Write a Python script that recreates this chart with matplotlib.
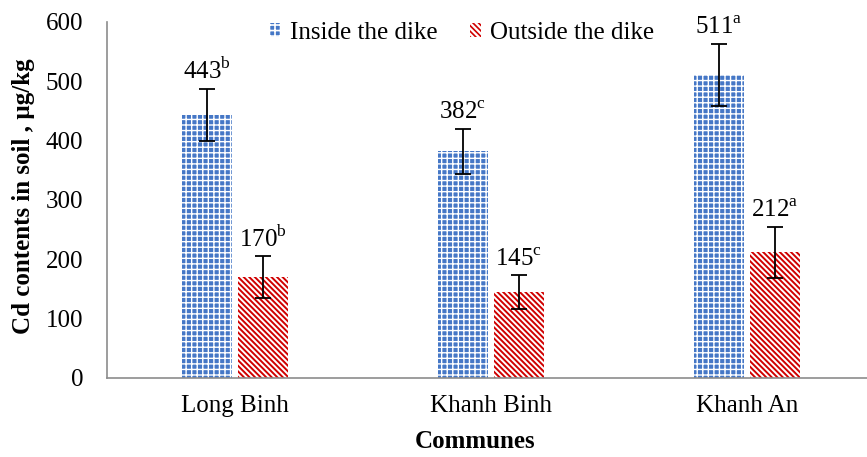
import matplotlib
matplotlib.use('Agg')
import matplotlib.pyplot as plt
import numpy as np

# data
communes = ['Long Binh', 'Khanh Binh', 'Khanh An']
inside = [443, 382, 511]
inside_err = [44, 38, 52]
inside_sig = ['b', 'c', 'a']
outside = [170, 145, 212]
outside_err = [35, 28, 43]
outside_sig = ['b', 'c', 'a']

plt.rcParams['font.family'] = ['Liberation Serif', 'DejaVu Serif']
plt.rcParams['mathtext.fontset'] = 'custom'
plt.rcParams['mathtext.rm'] = 'Liberation Serif'
plt.rcParams['hatch.linewidth'] = 1.2

fig = plt.figure(figsize=(8.67, 4.57), dpi=100)
ax = fig.add_axes([107 / 867, 1 - 378 / 457, 760 / 867, 356 / 457])

x = np.arange(len(communes))
w = 0.195
off = 0.109

b1 = ax.bar(x - off, inside, w, color='#4577C6', edgecolor='white', hatch='+++',
            linewidth=0, label='Inside the dike')
b2 = ax.bar(x + off, outside, w, color='white', edgecolor='#D00000', hatch='\\' * 6,
            linewidth=0, label='Outside the dike')
for p in b1:
    if hasattr(p, 'set_hatch_linewidth'):
        p.set_hatch_linewidth(1.0)
for p in b2:
    if hasattr(p, 'set_hatch_linewidth'):
        p.set_hatch_linewidth(1.4)

ax.errorbar(x - off, inside, yerr=inside_err, fmt='none', ecolor='black',
            elinewidth=1.3, capsize=5.5, capthick=1.3)
ax.errorbar(x + off, outside, yerr=outside_err, fmt='none', ecolor='black',
            elinewidth=1.3, capsize=5.5, capthick=1.3)

for xi, v, e, s in zip(x - off, inside, inside_err, inside_sig):
    ax.text(xi, v + e + 8, f'{v}$^{{\\mathrm{{{s}}}}}$', ha='center', va='bottom', fontsize=18)
for xi, v, e, s in zip(x + off, outside, outside_err, outside_sig):
    ax.text(xi, v + e + 8, f'{v}$^{{\\mathrm{{{s}}}}}$', ha='center', va='bottom', fontsize=18)

ax.set_xlim(-0.5, 2.47)
ax.set_ylim(0, 600)
ax.set_yticks(range(0, 601, 100))
ax.set_xticks(x)
ax.set_xticklabels(communes)
ax.tick_params(axis='both', length=0, labelsize=18)
ax.tick_params(axis='x', pad=12)
ax.tick_params(axis='y', pad=17)
for sp in ['top', 'right']:
    ax.spines[sp].set_visible(False)
for sp in ['left', 'bottom']:
    ax.spines[sp].set_color('#8C8C8C')
    ax.spines[sp].set_linewidth(1.2)

fig.text(24 / 867, 1 - 196 / 457, 'Cd contents in soil , µg/kg', rotation=90,
         ha='center', va='center', fontsize=18, fontweight='bold')
fig.text(475 / 867, 1 - 442 / 457, 'Communes', ha='center', va='center',
         fontsize=18, fontweight='bold')

fig.legend(handles=[b1, b2], loc='center', bbox_to_anchor=(462 / 867, 1 - 33 / 457),
           ncol=2, frameon=False, fontsize=18, handlelength=0.45, handleheight=0.45,
           handletextpad=0.35, columnspacing=1.3)

fig.savefig('out.png', dpi=100)
